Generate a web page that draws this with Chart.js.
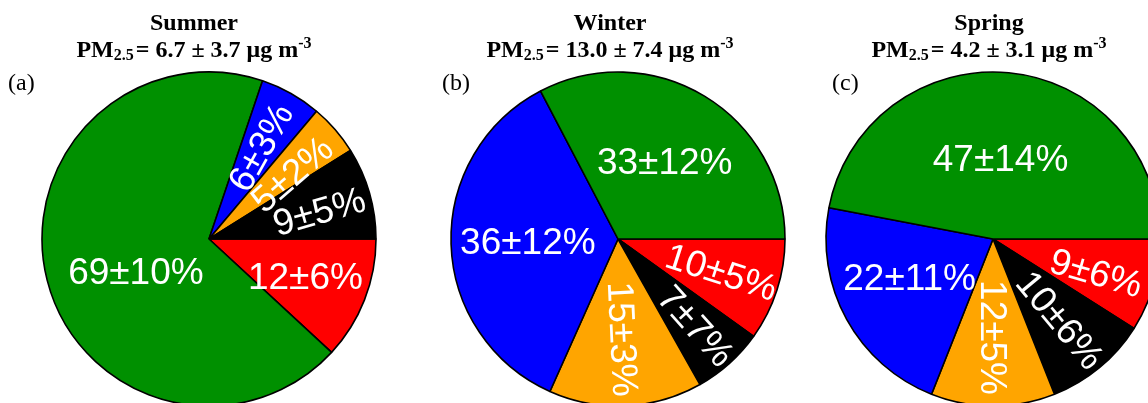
<!DOCTYPE html>
<html lang="en">
<head>
  <meta charset="UTF-8" />
  <title>PM2.5 source contributions by season</title>
  <script src="https://cdn.jsdelivr.net/npm/chart.js"></script>
  <style>
    body { margin: 0; background: #fff; overflow: hidden; }
    .wrap { position: relative; width: 1148px; height: 403px; }
    .wrap canvas { position: absolute; left: 0; top: 0; }
  </style>
</head>
<body>
  <div class="wrap">
    <canvas id="summer" width="1148" height="403"></canvas>
    <canvas id="winter" width="1148" height="403"></canvas>
    <canvas id="spring" width="1148" height="403"></canvas>
  </div>
  <script>
    // season headers
    const seasons = ['Summer', 'Winter', 'Spring'];
    const panelTags = ['(a)', '(b)', '(c)'];
    const pmMean = [6.7, 13.0, 4.2];
    const pmSd = [3.7, 7.4, 3.1];

    // slice shares (%) and their uncertainty, clockwise from 3 o'clock
    const summerShares = [12, 69, 6, 5, 9];
    const summerErrors = [6, 10, 3, 2, 5];
    const winterShares = [10, 7, 15, 36, 33];
    const winterErrors = [5, 7, 3, 12, 12];
    const springShares = [9, 10, 12, 22, 47];
    const springErrors = [6, 6, 5, 11, 14];

    const RED = '#ff0000', GREEN = '#009000', BLUE = '#0000ff', ORANGE = '#ffa500', BLACK = '#000000';

    const W = 1148, H = 403, CY = 239, R = 167;

    const panels = [
      { id: 'summer', cx: 209, titleX: 194, tagX: 8,
        shares: summerShares, errors: summerErrors,
        colors: [RED, GREEN, BLUE, ORANGE, BLACK],
        dist: [0.62, 0.48, 0.63, 0.63, 0.68], nudge: [0, -10, 0, 3, 2],
        turn: [false, false, true, true, true] },
      { id: 'winter', cx: 618, titleX: 610, tagX: 442,
        shares: winterShares, errors: winterErrors,
        colors: [RED, BLACK, ORANGE, BLUE, GREEN],
        dist: [0.65, 0.70, 0.60, 0.54, 0.54], nudge: [0, 0, 0, 0, 0],
        turn: [true, true, true, false, false] },
      { id: 'spring', cx: 993, titleX: 989, tagX: 832,
        shares: springShares, errors: springErrors,
        colors: [RED, BLACK, ORANGE, BLUE, GREEN],
        dist: [0.65, 0.63, 0.59, 0.55, 0.48], nudge: [2, 0, 0, 4, 0],
        turn: [true, true, true, false, false] }
    ];

    function labelPlugin(p) {
      return {
        id: 'sliceLabels',
        afterDatasetsDraw(chart) {
          const ctx = chart.ctx;
          const arcs = chart.getDatasetMeta(0).data;
          ctx.save();
          ctx.fillStyle = '#fff';
          ctx.font = '37px "Liberation Sans", Arial, sans-serif';
          ctx.textAlign = 'center';
          ctx.textBaseline = 'middle';
          arcs.forEach((arc, i) => {
            const a = arc.getProps(['x', 'y', 'startAngle', 'endAngle', 'outerRadius'], true);
            const mid = (a.startAngle + a.endAngle) / 2;
            const ang = mid + p.nudge[i] * Math.PI / 180;
            const d = a.outerRadius * p.dist[i];
            const x = a.x + Math.cos(ang) * d;
            const y = a.y + Math.sin(ang) * d;
            ctx.save();
            ctx.translate(x, y);
            if (p.turn[i]) ctx.rotate(mid);
            ctx.fillText(p.shares[i] + '\u00b1' + p.errors[i] + '%', 0, 2);
            ctx.restore();
          });
          ctx.restore();
        }
      };
    }

    function titlePlugin(p, k) {
      return {
        id: 'seasonTitle',
        afterDraw(chart) {
          const ctx = chart.ctx;
          const big = 'bold 24px "Liberation Serif", "Times New Roman", serif';
          const small = 'bold 16px "Liberation Serif", "Times New Roman", serif';
          ctx.save();
          ctx.fillStyle = '#000';
          ctx.textBaseline = 'alphabetic';
          ctx.textAlign = 'center';
          ctx.font = big;
          ctx.fillText(seasons[k], p.titleX, 30);

          const runs = [
            { t: 'PM', f: big, dy: 0, gap: 0 },
            { t: '2.5', f: small, dy: 3, gap: 0 },
            { t: '= ' + pmMean[k].toFixed(1) + ' \u00b1 ' + pmSd[k].toFixed(1) + ' \u03bcg m', f: big, dy: 0, gap: 2 },
            { t: '-3', f: small, dy: -9, gap: 0 }
          ];
          let total = 0;
          runs.forEach(r => { ctx.font = r.f; r.w = ctx.measureText(r.t).width; total += r.w + r.gap; });
          let x = p.titleX - total / 2;
          ctx.textAlign = 'left';
          runs.forEach(r => {
            x += r.gap;
            ctx.font = r.f;
            ctx.fillText(r.t, x, 57 + r.dy);
            x += r.w;
          });

          ctx.font = '24px "Liberation Serif", "Times New Roman", serif';
          ctx.fillText(panelTags[k], p.tagX, 90);
          ctx.restore();
        }
      };
    }

    panels.forEach((p, k) => {
      const left = Math.max(0, 2 * p.cx - W);
      const right = Math.max(0, W - 2 * p.cx);
      new Chart(document.getElementById(p.id), {
        type: 'pie',
        data: {
          labels: p.shares.map((v, i) => 'slice ' + (i + 1)),
          datasets: [{
            data: p.shares,
            backgroundColor: p.colors,
            borderColor: '#000',
            borderWidth: 1.6,
            radius: R,
            clip: false
          }]
        },
        options: {
          responsive: false,
          animation: false,
          rotation: 90,
          layout: { padding: { left: left, right: right, top: 2 * CY - H, bottom: 0 } },
          plugins: {
            legend: { display: false },
            tooltip: { enabled: false },
            title: { display: false }
          }
        },
        plugins: [labelPlugin(p), titlePlugin(p, k)]
      });
    });
  </script>
</body>
</html>
